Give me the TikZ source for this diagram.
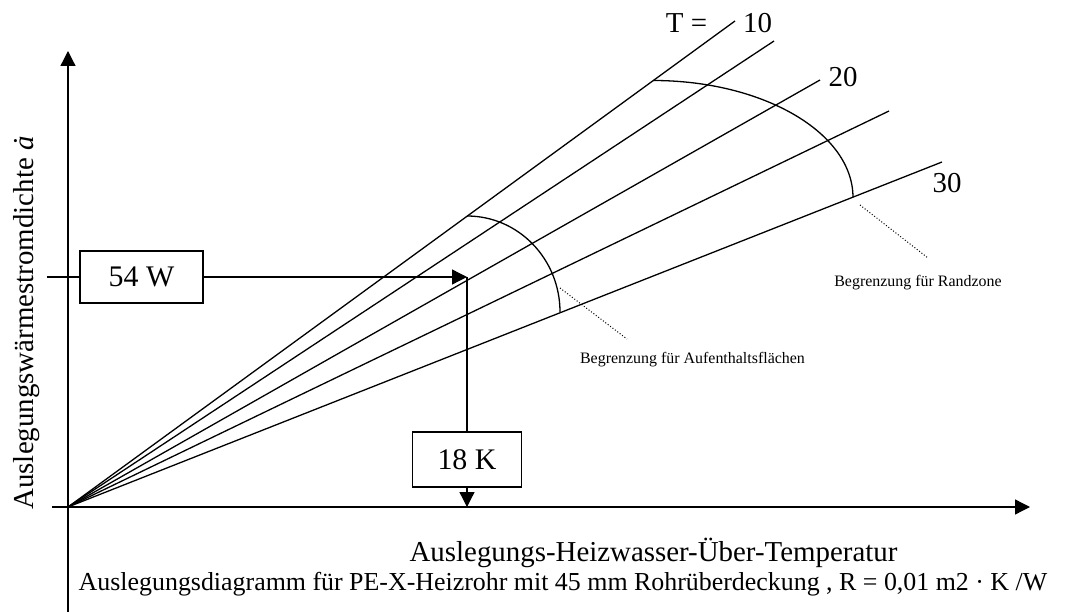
\documentclass[tikz,border=0pt]{standalone}
\usepackage{fontspec}
\setmainfont{Liberation Serif}
\usetikzlibrary{arrows.meta}
\begin{document}
\begin{tikzpicture}[x=1bp,y=-1bp,
  ln/.style={line width=1.3bp},
  tip/.style={-{Triangle[length=15bp,width=15bp]}},
  valbox/.style={draw,line width=1.3bp,inner sep=0pt,font=\fontsize{30}{34}\selectfont},
  big/.style={font=\fontsize{29}{34}\selectfont,inner sep=0pt},
  small/.style={font=\fontsize{16}{19}\selectfont,inner sep=0pt},
  dots/.style={line width=1bp,dash pattern=on 1bp off 2bp}]
\useasboundingbox (0,0) rectangle (1080,612);
% axes
\coordinate (O) at (68,507);
\coordinate (ybot) at (68,612);
\coordinate (ytop) at (68,51);
\coordinate (xl) at (52,507);
\coordinate (xr) at (1030,507);
\draw[ln,tip] (ybot) -- (ytop);
\draw[ln,tip] (xl) -- (xr);
% fan lines
\coordinate (e1) at (735,21);
\coordinate (e2) at (774,41);
\coordinate (e3) at (820,80);
\coordinate (e4) at (889,111);
\coordinate (e5) at (942,162);
\foreach \e in {e1,e2,e3,e4,e5} \draw[ln] (O) -- (\e);
% labels T
\node[big,anchor=base] (tlab) at (686.5,33) {T =};
\node[big,anchor=base] (t10) at (757.5,33) {10};
\node[big,anchor=base] (t20) at (843,87) {20};
\node[big,anchor=base] (t30) at (947,193) {30};
% limit arcs
\coordinate (a1) at (467,216);
\coordinate (a2) at (653,80.5);
\draw[ln] (a1) arc[start angle=-90,end angle=0,x radius=93,y radius=96];
\draw[ln] (a2) arc[start angle=-90,end angle=0,x radius=200,y radius=117];
% dotted pointers
\coordinate (d1a) at (560,288);
\coordinate (d1b) at (627,339);
\coordinate (d2a) at (860,205);
\coordinate (d2b) at (928,258);
\draw[dots] (d1a) -- (d1b);
\draw[dots] (d2a) -- (d2b);
\node[small,anchor=base] (lauf) at (692.5,363) {Begrenzung für Aufenthaltsflächen};
\node[small,anchor=base] (lrand) at (918,287) {Begrenzung für Randzone};
% reading example
\node[valbox,minimum width=123bp,minimum height=52bp] (b54) at (141.5,277) {54 W};
\node[valbox,minimum width=109bp,minimum height=55bp] (b18) at (467,459.5) {18 K};
\coordinate (w0) at (47,277);
\coordinate (P) at (467,277);
\coordinate (ax) at (467,507);
\draw[ln] (w0) -- (b54.west);
\draw[ln,tip] (b54.east) -- (P);
\draw[ln] (P) -- (b18.north);
\draw[ln,tip] (b18.south) -- (ax);
% axis titles
\node[big,anchor=base] (xlab) at (653.5,561) {Auslegungs-Heizwasser-Über-Temperatur};
\node[big,anchor=base,rotate=90] (ylab) at (33,323) {Auslegungswärmestromdichte \textit{ȧ}};
\node[anchor=base,inner sep=0pt,font=\fontsize{26}{30}\selectfont] (cap) at (563,590) {Auslegungsdiagramm für PE-X-Heizrohr mit 45 mm Rohrüberdeckung , R = 0,01 m2 · K /W};
\end{tikzpicture}
\end{document}
